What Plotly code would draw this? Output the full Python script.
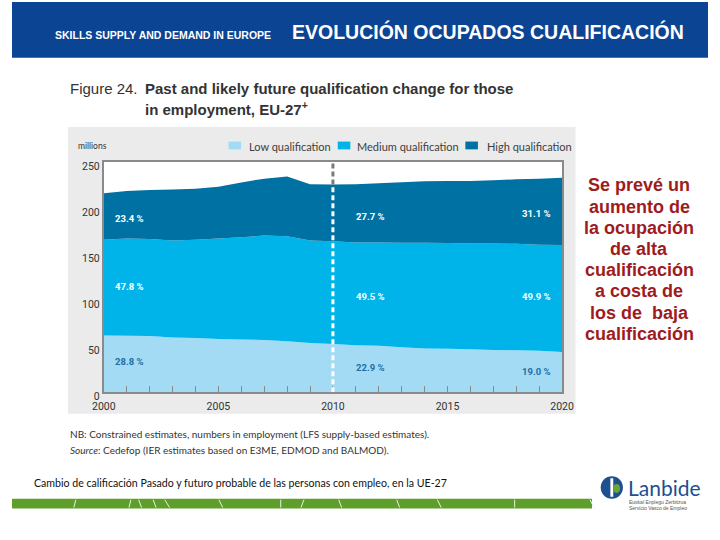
import plotly.graph_objects as go

# ---------------- data ----------------
years = list(range(2000, 2021))
low = [61.8, 61.4, 61.1, 59.6, 58.9, 57.9, 57.5, 56.8, 55.4, 53.7, 52.6,
       51.2, 50.5, 49.0, 47.7, 47.3, 46.9, 45.9, 45.6, 45.2, 43.7]
medium = [103.8, 105.6, 105.5, 105.3, 106.7, 109.1, 110.9, 113.4, 114.1, 111.2, 111.3,
          111.6, 112.3, 113.4, 114.7, 114.8, 114.8, 115.8, 115.7, 115.1, 116.2]
high = [50.5, 51.5, 53.0, 55.4, 55.5, 56.2, 59.4, 61.8, 64.9, 61.1, 61.7,
        63.2, 64.2, 65.7, 66.8, 67.4, 67.8, 68.5, 70.0, 71.7, 73.1]
series_names = ["Low qualification", "Medium qualification", "High qualification"]
pct_low = ["28.8 %", "22.9 %", "19.0 %"]
pct_medium = ["47.8 %", "49.5 %", "49.9 %"]
pct_high = ["23.4 %", "27.7 %", "31.1 %"]
y_ticks = [0, 50, 100, 150, 200, 250]
x_ticks = [2000, 2005, 2010, 2015, 2020]
projection_start = 2010

right_text = ["Se prevé un", "aumento de", "la ocupación", "de alta",
              "cualificación", "a costa de", "los de  baja", "cualificación"]

# ---------------- style ----------------
W, H = 720, 540
C_LOW, C_MED, C_HIGH = "#a3dbf5", "#00b4ea", "#0071a3"
BLUE_HDR = "#0c4494"
PANEL = "#ebebeb"
NARROW = "Liberation Sans Narrow, Arial Narrow, Lato, sans-serif"
NUM = "Liberation Sans Narrow, Arial Narrow, Roboto, sans-serif"
ARIAL = "Liberation Sans, Arial, Helvetica, sans-serif"


def px(x):
    return x / W


def py(y):
    return 1 - y / H


PL, PR, PT, PB = 95, 569, 164, 400  # plot area in pixels

fig = go.Figure()
for vals, name, col in zip([low, medium, high], series_names, [C_LOW, C_MED, C_HIGH]):
    fig.add_trace(go.Scatter(x=years, y=vals, name=name, stackgroup="one",
                             mode="none", fillcolor=col, line=dict(width=0),
                             hoverinfo="skip", showlegend=False))

shapes = []
# header band
shapes.append(dict(type="rect", xref="paper", yref="paper", x0=0, x1=1,
                   y0=py(57), y1=1, fillcolor=BLUE_HDR, line=dict(width=0), layer="below"))
# gray chart panel
shapes.append(dict(type="rect", xref="paper", yref="paper", x0=px(58), x1=px(583),
                   y0=py(422), y1=py(128), fillcolor=PANEL, line=dict(width=0), layer="below"))
# white plot area
shapes.append(dict(type="rect", xref="paper", yref="paper", x0=px(PL), x1=px(PR),
                   y0=py(PB), y1=py(PT), fillcolor="white", line=dict(width=0), layer="below"))
# green footer band
shapes.append(dict(type="rect", xref="paper", yref="paper", x0=0, x1=px(600),
                   y0=py(519), y1=py(509), fillcolor="#5e9f2c", line=dict(width=0), layer="below"))
for xa, xb in [(66, 64), (123, 121), (131, 134), (146, 149), (158, 163), (214, 218),
               (278, 278), (302, 299), (338, 341), (398, 401), (440, 444), (520, 520), (598, 602)]:
    shapes.append(dict(type="line", xref="paper", yref="paper", x0=px(xa), x1=px(xb),
                       y0=py(510), y1=py(518), line=dict(color="#e8f2dc", width=1)))

# projection divider (dashed) at 2010
i10 = years.index(projection_start)
total10 = low[i10] + medium[i10] + high[i10]
shapes.append(dict(type="line", xref="x", yref="y", x0=projection_start, x1=projection_start,
                   y0=0, y1=total10, line=dict(color="white", width=3, dash="5px,3px"),
                   layer="above"))
shapes.append(dict(type="line", xref="x", yref="y", x0=projection_start, x1=projection_start,
                   y0=total10, y1=250, line=dict(color="#7a7a7a", width=3, dash="5px,3px"),
                   layer="above"))

# legend swatches
leg = [(224, 243), (337, 355), (469, 489)]
for (sx, tx), col in zip(leg, [C_LOW, C_MED, C_HIGH]):
    shapes.append(dict(type="rect", xref="paper", yref="paper", x0=px(sx), x1=px(sx + 13),
                       y0=py(151), y1=py(143), fillcolor=col, line=dict(width=0)))

# logo
shapes.append(dict(type="circle", xref="paper", yref="paper", x0=px(609), x1=px(632),
                   y0=py(509), y1=py(486), fillcolor="#1d4f91", line=dict(width=0)))
shapes.append(dict(type="rect", xref="paper", yref="paper", x0=px(619), x1=px(622),
                   y0=py(507), y1=py(488), fillcolor="white", line=dict(width=0)))
shapes.append(dict(type="circle", xref="paper", yref="paper", x0=px(622), x1=px(629),
                   y0=py(503), y1=py(494), fillcolor="#6aa636", line=dict(width=0)))

ann = []


def text(x, y, s, size, color, family=ARIAL, xanchor="left", bold=False):
    if bold:
        s = "<b>" + s + "</b>"
    ann.append(dict(xref="paper", yref="paper", x=px(x), y=py(y), text=s, showarrow=False,
                    xanchor=xanchor, yanchor="middle", align=xanchor,
                    font=dict(size=size, color=color, family=family)))


# header texts
text(42, 34, "SKILLS SUPPLY AND DEMAND IN EUROPE", 10.5, "white", bold=True)
text(288, 30, "EVOLUCIÓN OCUPADOS CUALIFICACIÓN", 19.5, "white", bold=True)

# figure title
text(58, 89, "Figure 24.", 15, "#333333")
text(136, 89, "Past and likely future qualification change for those", 15, "#333333", bold=True)
text(136, 109, "in employment, EU-27<sup>+</sup>", 15, "#333333", bold=True)

# legend texts + units
for (sx, tx), name in zip(leg, series_names):
    text(tx, 148, name, 11, "#404040", family=NARROW)
text(66, 148, "millions", 8.5, "#333333", family=NARROW)

# notes
text(58, 443, "NB: Constrained estimates, numbers in employment (LFS supply-based estimates).",
     10, "#333333", family=NARROW)
text(58, 459, "<i>Source</i>: Cedefop (IER estimates based on E3ME, EDMOD and BALMOD).",
     10, "#333333", family=NARROW)

# footer caption
text(21, 493, "Cambio de calificación Pasado y futuro probable de las personas con empleo, en la UE-27",
     10.6, "#111111", family="Lato, Open Sans, sans-serif")

# logo text
text(635, 497, "Lanbide", 21, "#1d4f91", family="Lato, Open Sans, sans-serif")
text(636, 512, "Euskal Enplegu Zerbitzua", 5, "#555555")
text(636, 518, "Servicio Vasco de Empleo", 5, "#555555")

# right-side message
for k, line in enumerate(right_text):
    text(649, 188 + k * 21.7, line, 18, "#9e1b20", xanchor="center", bold=True)

# percentage labels in data coordinates
lab_x = [(2000.4, "left"), (2010.9, "left"), (2019.6, "right")]
for labels, yv, col in [(pct_high, [189, 191, 194], "white"),
                        (pct_medium, [115, 104, 104], "white"),
                        (pct_low, [33, 26.5, 22.5], "#1e6fa3")]:
    for (xv, anc), lab, yy in zip(lab_x, labels, yv):
        ann.append(dict(xref="x", yref="y", x=xv, y=yy, text="<b>" + lab + "</b>",
                        showarrow=False, xanchor=anc, yanchor="middle",
                        font=dict(size=9.5, color=col, family=NUM)))

fig.update_layout(
    width=W, height=H, margin=dict(l=0, r=0, t=0, b=0),
    paper_bgcolor="white", plot_bgcolor="rgba(0,0,0,0)",
    shapes=shapes, annotations=ann, showlegend=False,
    xaxis=dict(domain=[px(PL), px(PR)], range=[2000, 2020], tickvals=x_ticks,
               showline=True, linecolor="#8a8a8a", linewidth=2, mirror=True,
               ticks="inside", ticklen=6, tickcolor="#8a8a8a", tickwidth=1,
               minor=dict(dtick=1, tick0=2000, ticks="inside", ticklen=6,
                          tickcolor="#8a8a8a", tickwidth=1, showgrid=False),
               showgrid=False, zeroline=False, ticklabelstandoff=3,
               tickfont=dict(size=10.5, color="#333333", family=NUM)),
    yaxis=dict(domain=[py(PB), py(PT)], range=[0, 250], tickvals=y_ticks,
               showline=True, linecolor="#8a8a8a", linewidth=2, mirror=True,
               ticks="", showgrid=False, zeroline=False, ticklabelshift=4,
               tickfont=dict(size=10.5, color="#333333", family=NUM)),
)

fig.write_html("out.html")
